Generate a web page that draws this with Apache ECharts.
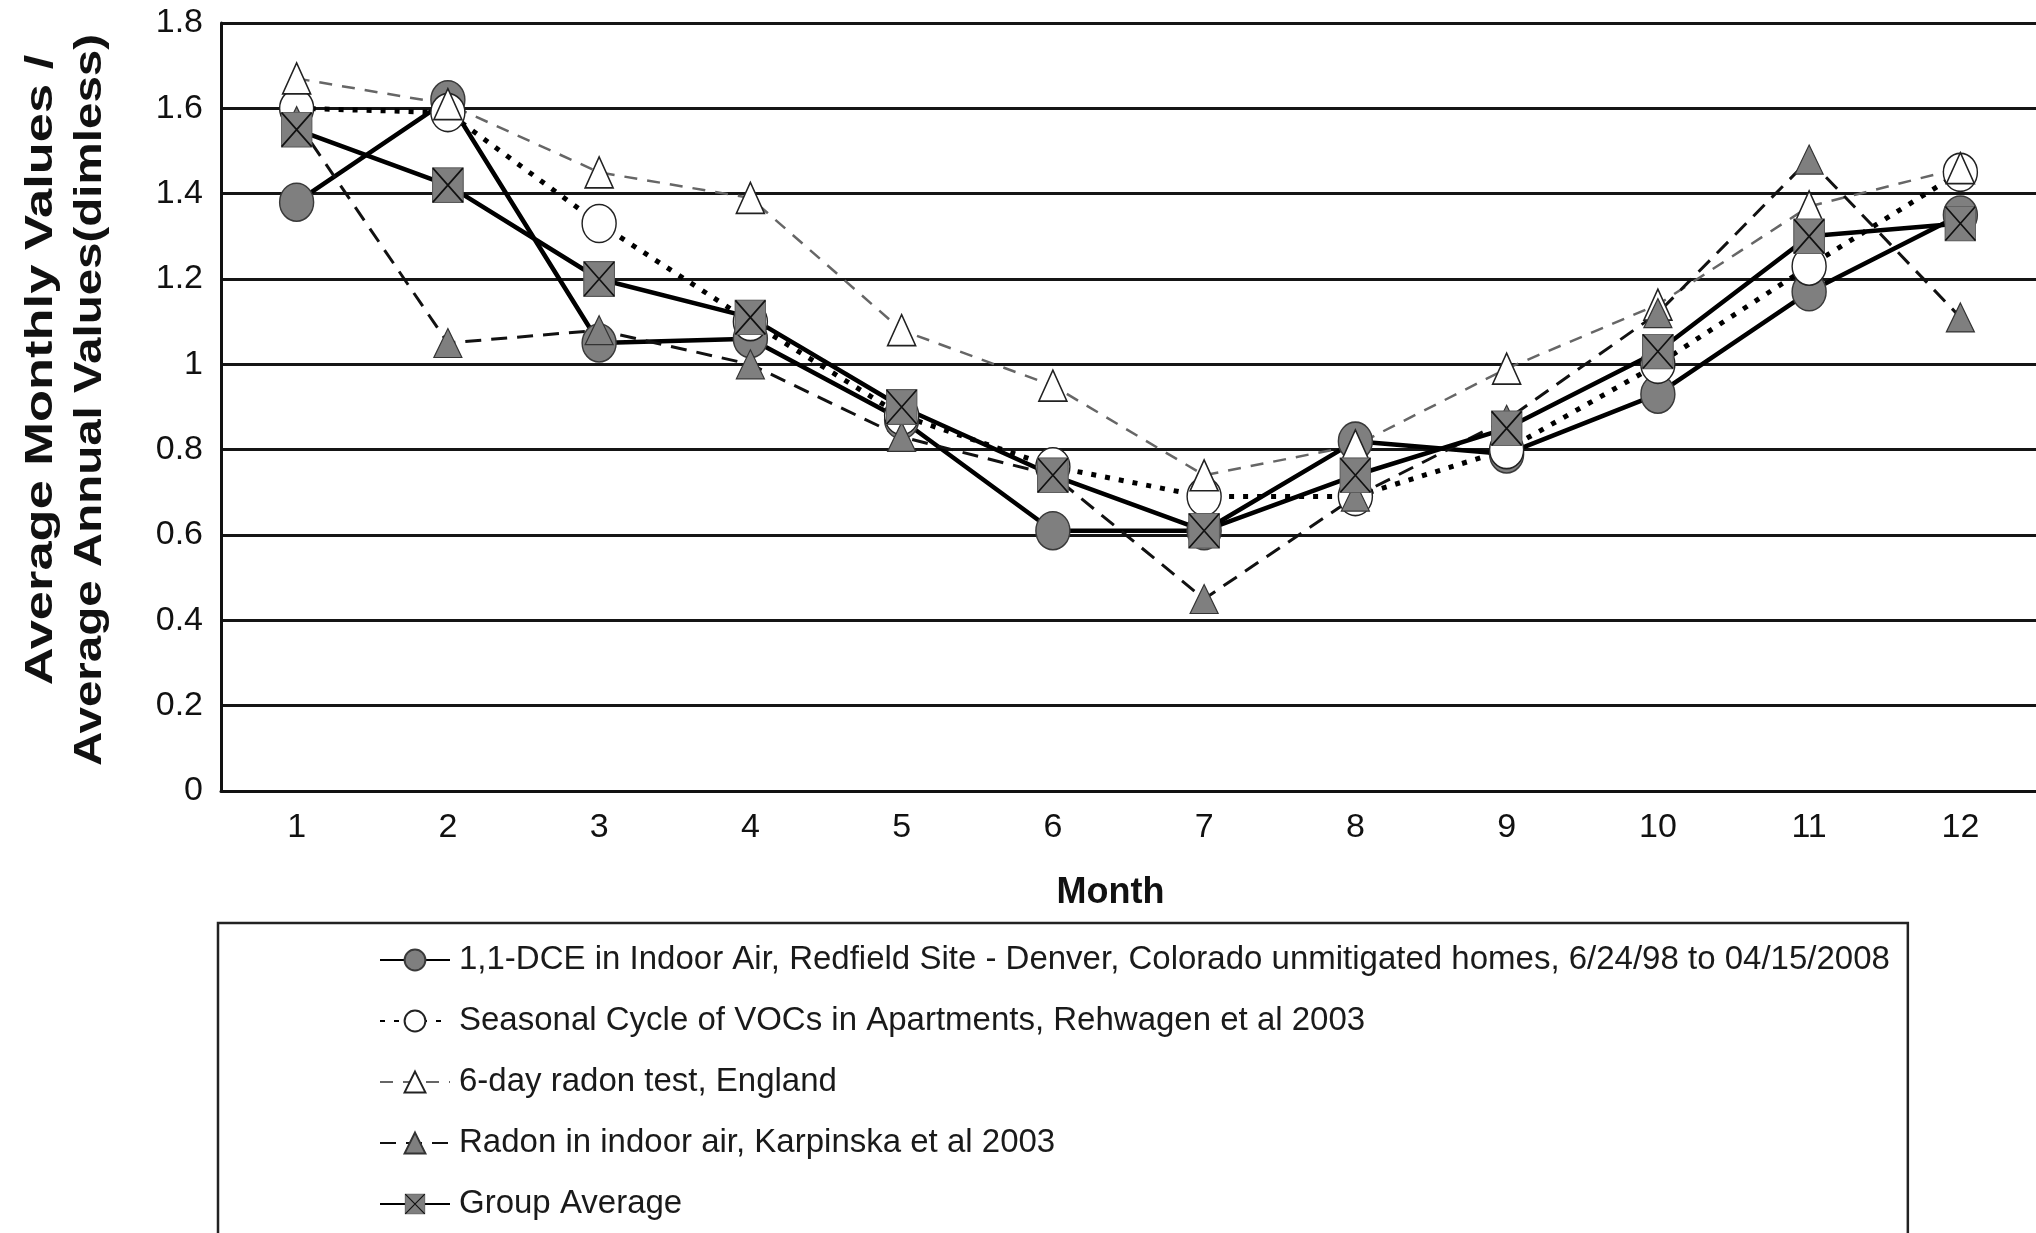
<!DOCTYPE html>
<html>
<head>
<meta charset="utf-8">
<title>Seasonal cycle of indoor air concentrations</title>
<script src="https://cdn.jsdelivr.net/npm/echarts@6/dist/echarts.min.js"></script>
<style>
  html, body { margin: 0; padding: 0; background: #fff; }
  #chart { width: 2036px; height: 1233px; }
</style>
</head>
<body>
<div id="chart"></div>
<script>
// Months on the category axis
const months = ['1', '2', '3', '4', '5', '6', '7', '8', '9', '10', '11', '12'];

// Average monthly value / average annual value, per data set
const dceRedfield = [1.38, 1.62, 1.05, 1.06, 0.87, 0.61, 0.61, 0.82, 0.79, 0.93, 1.17, 1.35];
const vocApartments = [1.60, 1.59, 1.33, 1.10, 0.88, 0.76, 0.69, 0.69, 0.80, 1.00, 1.23, 1.45];
const radonEngland = [1.67, 1.61, 1.45, 1.39, 1.08, 0.95, 0.74, 0.81, 0.99, 1.14, 1.37, 1.46];
const radonKarpinska = [1.57, 1.05, 1.08, 1.00, 0.83, 0.74, 0.45, 0.69, 0.87, 1.12, 1.48, 1.11];
const groupAverage = [1.55, 1.42, 1.20, 1.11, 0.90, 0.74, 0.61, 0.74, 0.85, 1.03, 1.30, 1.33];

// Series names shown in the legend
const seriesNames = [
  '1,1-DCE in Indoor Air, Redfield Site - Denver, Colorado unmitigated homes, 6/24/98 to 04/15/2008',
  'Seasonal Cycle of VOCs in Apartments, Rehwagen et al 2003',
  '6-day radon test, England',
  'Radon in indoor air, Karpinska et al 2003',
  'Group Average'
];

// Y-axis range and step
const yMin = 0, yMax = 1.8, yStep = 0.2;

// Two-line y-axis title
const yTitleLines = ['Average Monthly Values /', 'Average Annual Values(dimless)'];

const axisFont = "'Liberation Sans', Arial, sans-serif";
const legendFont = "'Liberation Sans Narrow', 'Arial Narrow', 'Liberation Sans', Arial, sans-serif";

// Grey square crossed by an X, used as the group-average marker
const crossSquareSvg =
  "<svg xmlns='http://www.w3.org/2000/svg' width='32' height='36' viewBox='0 0 32 36'>" +
  "<rect x='0.6' y='0.6' width='30.8' height='34.8' fill='#7f7f7f' stroke='#5a5a5a' stroke-width='1.2'/>" +
  "<path d='M1 1 L31 35 M31 1 L1 35' stroke='#111' stroke-width='1.7' fill='none'/></svg>";
const crossSquareSymbol = 'image://data:image/svg+xml;charset=utf-8,' + encodeURIComponent(crossSquareSvg);

const chart = echarts.init(document.getElementById('chart'), null, { renderer: 'canvas' });

chart.setOption({
  animation: false,
  backgroundColor: '#ffffff',
  grid: { left: 221, top: 23, width: 1822, height: 768, containLabel: false },
  xAxis: {
    type: 'category',
    data: months,
    boundaryGap: true,
    axisLine: { show: true, lineStyle: { color: '#111', width: 3 } },
    axisTick: { show: false },
    axisLabel: { fontSize: 34, color: '#111', margin: 20, fontFamily: axisFont },
    splitLine: { show: false },
    name: 'Month',
    nameLocation: 'middle',
    nameGap: 84,
    nameTextStyle: { fontSize: 36, fontWeight: 'bold', color: '#111', fontFamily: axisFont, padding: [0, 36, 0, 0] }
  },
  yAxis: {
    type: 'value',
    min: yMin,
    max: yMax,
    interval: yStep,
    axisLine: { show: true, lineStyle: { color: '#111', width: 3 } },
    axisTick: { show: false },
    axisLabel: { fontSize: 34, color: '#111', margin: 18, fontFamily: axisFont },
    splitLine: { show: true, lineStyle: { color: '#151515', width: 2.8 } }
  },
  graphic: [
    {
      type: 'text',
      x: 42, y: 370,
      rotation: Math.PI / 2,
      scaleX: 1.38,
      style: {
        text: yTitleLines[0],
        font: "bold 38px " + axisFont,
        fill: '#111',
        textAlign: 'center',
        textVerticalAlign: 'middle'
      }
    },
    {
      type: 'text',
      x: 91, y: 400,
      rotation: Math.PI / 2,
      scaleX: 1.25,
      style: {
        text: yTitleLines[1],
        font: "bold 38px " + axisFont,
        fill: '#111',
        textAlign: 'center',
        textVerticalAlign: 'middle'
      }
    }
  ],
  legend: {
    orient: 'vertical',
    left: 218,
    top: 923,
    height: 440,
    padding: [17, 18, 60, 161],
    borderColor: '#222',
    borderWidth: 2.5,
    backgroundColor: '#fff',
    itemWidth: 70,
    itemHeight: 26,
    itemGap: 21,
    align: 'left',
    textStyle: { fontSize: 33, lineHeight: 40, color: '#1a1a1a', fontFamily: legendFont, padding: [0, 0, 0, 4] },
    data: seriesNames
  },
  series: [
    {
      name: seriesNames[0],
      type: 'line',
      data: dceRedfield,
      symbol: 'circle',
      symbolSize: [34, 38],
      itemStyle: { color: '#7f7f7f', borderColor: '#3a3a3a', borderWidth: 1.5 },
      lineStyle: { color: '#000', width: 4.5 }
    },
    {
      name: seriesNames[1],
      type: 'line',
      data: vocApartments,
      symbol: 'circle',
      symbolSize: [34, 38],
      itemStyle: { color: '#ffffff', borderColor: '#222', borderWidth: 1.5 },
      lineStyle: { color: '#000', width: 5, type: [5, 9] }
    },
    {
      name: seriesNames[2],
      type: 'line',
      data: radonEngland,
      symbol: 'triangle',
      symbolSize: [28, 31],
      itemStyle: { color: '#ffffff', borderColor: '#222', borderWidth: 1.6 },
      lineStyle: { color: '#666', width: 2.5, type: [13, 10] }
    },
    {
      name: seriesNames[3],
      type: 'line',
      data: radonKarpinska,
      symbol: 'triangle',
      symbolSize: [28, 29],
      itemStyle: { color: '#7f7f7f', borderColor: '#333', borderWidth: 1.2 },
      lineStyle: { color: '#111', width: 3, type: [16, 10] }
    },
    {
      name: seriesNames[4],
      type: 'line',
      data: groupAverage,
      symbol: crossSquareSymbol,
      symbolSize: [32, 36],
      itemStyle: { color: '#7f7f7f' },
      lineStyle: { color: '#000', width: 4.5 }
    }
  ]
});
</script>
</body>
</html>
